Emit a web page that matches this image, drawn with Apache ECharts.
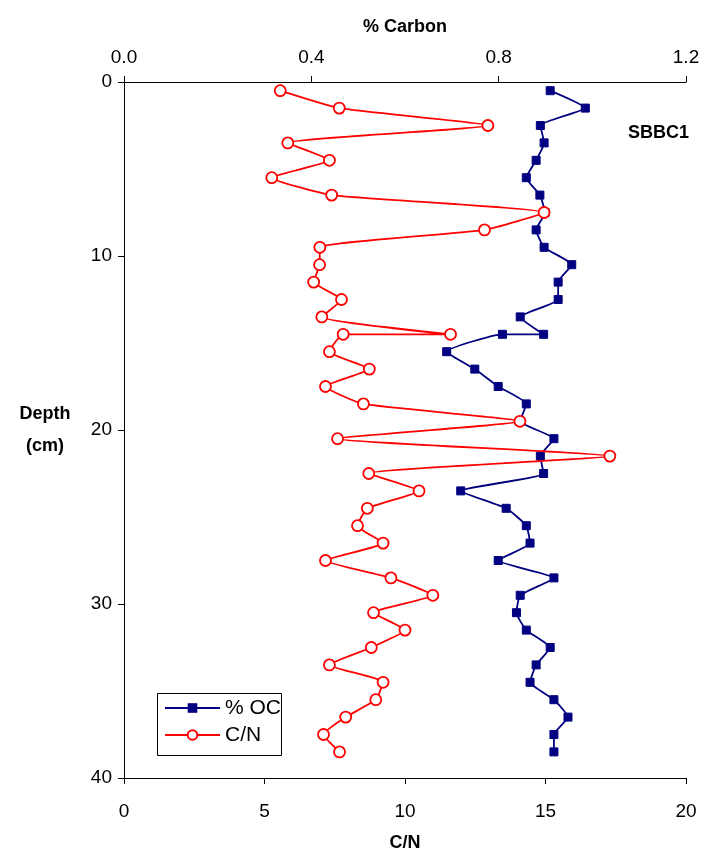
<!DOCTYPE html>
<html>
<head>
<meta charset="utf-8">
<script src="https://cdn.jsdelivr.net/npm/echarts@6/dist/echarts.min.js"></script>
<style>
html,body{margin:0;padding:0;background:#fff;}
#chart{width:712px;height:855px;}
</style>
</head>
<body>
<div id="chart"></div>
<script>
// Depth (cm) of each sample; 14.5 appears twice in the source data
const depth = [0.5,1.5,2.5,3.5,4.5,5.5,6.5,7.5,8.5,9.5,10.5,11.5,12.5,13.5,14.5,14.5,15.5,16.5,17.5,18.5,19.5,20.5,21.5,22.5,23.5,24.5,25.5,26.5,27.5,28.5,29.5,30.5,31.5,32.5,33.5,34.5,35.5,36.5,37.5,38.5];
// % organic carbon (top axis)
const pctOC = [0.910,0.985,0.889,0.897,0.880,0.859,0.888,0.899,0.880,0.897,0.956,0.927,0.927,0.846,0.896,0.808,0.689,0.749,0.799,0.859,0.846,0.918,0.889,0.896,0.719,0.816,0.859,0.867,0.799,0.918,0.846,0.838,0.859,0.910,0.880,0.867,0.918,0.948,0.918,0.918];
// C/N ratio (bottom axis)
const cn = [5.56,7.66,12.95,5.83,7.31,5.26,7.39,14.95,12.83,6.97,6.96,6.75,7.74,7.04,11.62,7.80,7.31,8.73,7.17,8.52,14.09,7.60,17.29,8.71,10.50,8.66,8.31,9.22,7.17,9.50,10.99,8.88,10.00,8.80,7.31,9.22,8.96,7.89,7.10,7.67];
const cnTicks = [0,5,10,15,20];
const carbonTicks = [0.0,0.4,0.8,1.2];
const depthTicks = [0,10,20,30,40];

const font = 'Liberation Sans, Arial, sans-serif';
const axisLine = {show:true, onZero:false, lineStyle:{color:'#000', width:1}};
const axisTick = {show:true, length:6, lineStyle:{color:'#000'}};

const chart = echarts.init(document.getElementById('chart'));
chart.setOption({
  animation:false,
  backgroundColor:'#fff',
  grid:{left:124, right:26, top:82, bottom:77, containLabel:false, outerBoundsMode:'none'},
  xAxis:[{
    type:'value', position:'bottom', min:cnTicks[0], max:cnTicks[cnTicks.length-1], interval:5,
    name:'C/N', nameLocation:'middle', nameGap:56, nameMoveOverlap:false,
    nameTextStyle:{fontFamily:font, fontSize:18, fontWeight:'bold', color:'#000'},
    axisLine, axisTick, splitLine:{show:false},
    axisLabel:{fontFamily:font, fontSize:19, color:'#000', margin:24}
  },{
    type:'value', position:'top', min:carbonTicks[0], max:carbonTicks[carbonTicks.length-1], interval:0.4,
    name:'% Carbon', nameLocation:'middle', nameGap:46, nameMoveOverlap:false,
    nameTextStyle:{fontFamily:font, fontSize:18, fontWeight:'bold', color:'#000'},
    axisLine, axisTick, splitLine:{show:false},
    axisLabel:{fontFamily:font, fontSize:19, color:'#000', margin:15, formatter:v=>v.toFixed(1)}
  }],
  yAxis:{
    type:'value', inverse:true, min:depthTicks[0], max:depthTicks[depthTicks.length-1], interval:10,
    name:'Depth\n(cm)', nameLocation:'middle', nameGap:79, nameRotate:0, nameMoveOverlap:false,
    nameTextStyle:{fontFamily:font, fontSize:18, fontWeight:'bold', color:'#000', lineHeight:32, align:'center'},
    axisLine, axisTick, splitLine:{show:false},
    axisLabel:{fontFamily:font, fontSize:19, color:'#000', margin:12}
  },
  legend:{
    orient:'vertical', left:164, top:696,
    padding:0, itemGap:3,
    itemWidth:55, itemHeight:12,
    textStyle:{fontFamily:font, fontSize:21, color:'#000', lineHeight:24},
    data:['% OC','C/N']
  },
  graphic:[{
    type:'rect', shape:{x:157.5, y:693.5, width:124, height:62},
    style:{fill:null, stroke:'#000', lineWidth:1}, z:100
  },{
    type:'text', x:689, y:133,
    style:{text:'SBBC1', font:'bold 18px ' + font, fill:'#000', align:'right', verticalAlign:'middle'}
  }],
  series:[{
    name:'% OC', type:'line', xAxisIndex:1,
    data:depth.map((d,i)=>[pctOC[i], d]),
    symbol:'rect', symbolSize:8, smooth:0.15,
    lineStyle:{color:'#000080', width:1.8},
    itemStyle:{color:'#000080', borderColor:'#000080'},
    z:2
  },{
    name:'C/N', type:'line', xAxisIndex:0,
    data:depth.map((d,i)=>[cn[i], d]),
    symbol:'circle', symbolSize:11, smooth:0.15,
    lineStyle:{color:'#ff0000', width:1.8},
    itemStyle:{color:'#ffffff', borderColor:'#ff0000', borderWidth:1.8},
    z:3
  }]
});
</script>
</body>
</html>
